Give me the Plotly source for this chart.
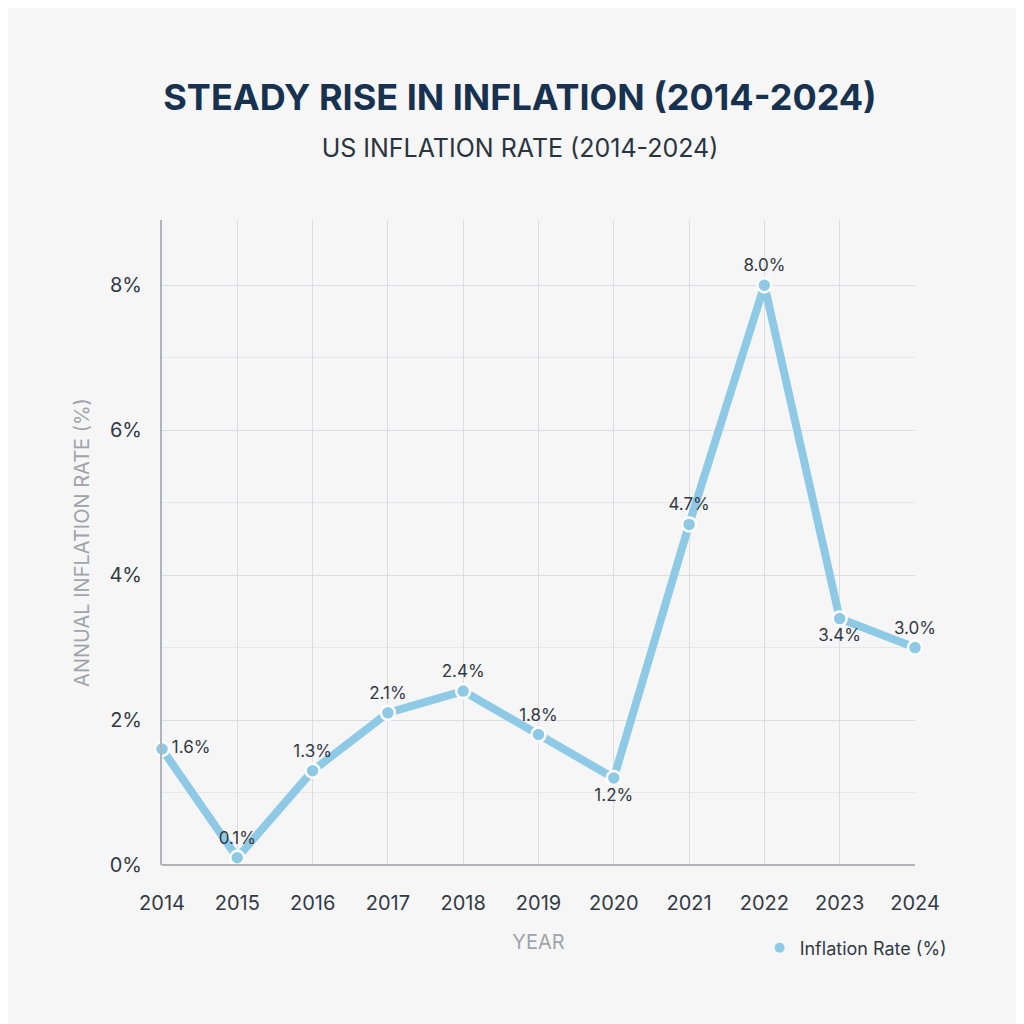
import plotly.graph_objects as go

years = list(range(2014, 2025))
rates = [1.6, 0.1, 1.3, 2.1, 2.4, 1.8, 1.2, 4.7, 8.0, 3.4, 3.0]
positions = ["middle right", "top center", "top center", "top center", "top center", "top center",
             "bottom center", "top center", "top center", "bottom center", "top center"]
labels = [f"{v:.1f}%" for v in rates]

fig = go.Figure()
fig.add_trace(go.Scatter(
    x=years, y=rates, mode="lines+markers+text", name="Inflation Rate (%)", showlegend=False,
    line=dict(color="#8ecae6", width=8),
    marker=dict(size=14, color="#8ecae6", line=dict(color="white", width=2.5)),
    text=labels, textposition=positions,
    textfont=dict(family="Inter", size=17, color="#333a44"),
    cliponaxis=False,
))
fig.add_trace(go.Scatter(
    x=[None], y=[None], mode="markers", name="Inflation Rate (%)",
    marker=dict(size=10, color="#8ecae6"),
))
fig.update_layout(
    width=1024, height=1024,
    paper_bgcolor="#f6f6f7", plot_bgcolor="#f6f6f7",
    margin=dict(l=154, r=117, t=212, b=167),
    title=dict(text="<b>STEADY RISE IN INFLATION (2014-2024)</b><br><span style='font-size:25px;color:#2a3440'>US INFLATION RATE (2014-2024)</span>",
               x=0.5, y=0.9, xanchor="center", yanchor="middle",
               font=dict(family="Inter", size=36, color="#173250")),
    showlegend=True,
    legend=dict(x=1.05, y=-0.1, xanchor="right", yanchor="top", font=dict(family="Inter", size=18, color="#333a44"),
                bgcolor="rgba(0,0,0,0)"),
    font=dict(family="Inter"),
)
fig.update_xaxes(range=[2014, 2024], tickvals=years, showgrid=True, gridcolor="#dcdde0",
                 tickfont=dict(size=20, color="#333a44"), ticks="", showline=False, ticklabelstandoff=24,
                 title=dict(text="YEAR", font=dict(size=20, color="#a0a4aa"), standoff=20), zeroline=False)
fig.update_yaxes(range=[0, 8.9], tickvals=[0, 2, 4, 6, 8], ticktext=["0%", "2%", "4%", "6%", "8%"],
                 showgrid=True, gridcolor="#dcdde0", tickfont=dict(size=20, color="#333a44"),
                 minor=dict(dtick=1, showgrid=True, gridcolor="#e6e7ea"), ticklabelstandoff=14,
                 showline=True, linecolor="#b0b3b8", linewidth=2, ticks="", zeroline=False,
                 title=dict(text="ANNUAL INFLATION RATE (%)", font=dict(size=20, color="#a0a4aa"), standoff=14))
fig.add_shape(type="line", xref="paper", yref="paper", x0=0, x1=1, y0=0, y1=0, line=dict(color="#b0b3b8", width=2))
fig.write_html("out.html")
